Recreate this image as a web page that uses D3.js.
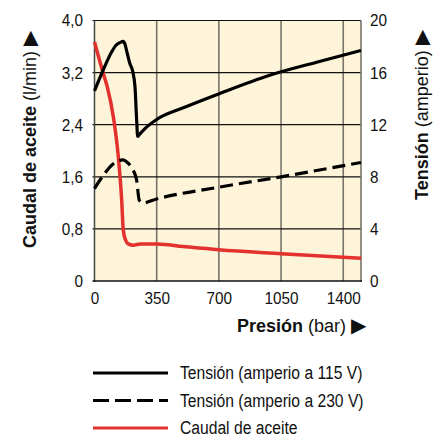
<!DOCTYPE html>
<html>
<head>
<meta charset="utf-8">
<script src="https://cdn.jsdelivr.net/npm/d3@7"></script>
<style>
  body { margin: 0; background: #fff; }
  text { font-family: "Liberation Sans", Arial, Helvetica, sans-serif; fill: #111; }
</style>
</head>
<body>
<svg width="445" height="440"></svg>
<script>
// pressure (bar) ticks and left / right axis ticks
const xTicks = [0, 350, 700, 1050, 1400];
const leftTicks = [0, 0.8, 1.6, 2.4, 3.2, 4.0];
const leftLabels = ["0", "0,8", "1,6", "2,4", "3,2", "4,0"];
const rightTicks = [0, 4, 8, 12, 16, 20];

// Tensión 115 V (amperio)
const p115 = [0, 49, 97, 121, 143, 162, 171, 184, 199, 215, 228, 237, 243, 256, 284, 350, 500, 705, 986, 1250, 1500];
const a115 = [14.6, 16.2, 17.6, 18.1, 18.3, 18.4, 18.2, 17.5, 16.7, 16.1, 14.9, 12.4, 11.1, 11.3, 11.7, 12.4, 13.3, 14.4, 15.8, 16.8, 17.7];

// Tensión 230 V (amperio)
const p230 = [0, 49, 106, 140, 162, 185, 205, 218, 237, 252, 274, 350, 700, 1050, 1500];
const a230 = [7.1, 8.1, 9.0, 9.25, 9.3, 9.1, 8.8, 8.5, 7.75, 6.2, 6.0, 6.3, 7.2, 8.0, 9.1];

// Caudal de aceite (l/min)
const pOil = [0, 49, 72, 106, 134, 153, 162, 175, 190, 218, 260, 350, 500, 700, 1050, 1500];
const qOil = [3.67, 3.19, 2.98, 2.52, 1.91, 1.24, 0.78, 0.63, 0.57, 0.55, 0.57, 0.57, 0.53, 0.48, 0.42, 0.35];

const legendNames = ["Tensión (amperio a 115 V)", "Tensión (amperio a 230 V)", "Caudal de aceite"];

const svg = d3.select("svg");
const pL = 94.5, pR = 361, pT = 20.5, pB = 281;
const squeeze = 0.9;   // the original type is a condensed grotesque

const x = d3.scaleLinear().domain([0, 1500]).range([pL, pR]);
const yL = d3.scaleLinear().domain([0, 4]).range([pB, pT]);
const yR = d3.scaleLinear().domain([0, 20]).range([pB, pT]);

const red = "#e3312d";
const dash = "13,6";

svg.append("rect")
  .attr("x", pL).attr("y", pT)
  .attr("width", pR - pL).attr("height", pB - pT)
  .attr("fill", "#fdf4da");

// vertical grid (grey)
svg.append("g").selectAll("line")
  .data(xTicks.slice(1))
  .join("line")
  .attr("x1", d => x(d)).attr("x2", d => x(d))
  .attr("y1", pT).attr("y2", pB)
  .attr("stroke", "#787468").attr("stroke-width", 1.6);

// horizontal grid (black)
svg.append("g").selectAll("line")
  .data(leftTicks.slice(1))
  .join("line")
  .attr("x1", pL - 2).attr("x2", pR)
  .attr("y1", d => yL(d)).attr("y2", d => yL(d))
  .attr("stroke", "#111").attr("stroke-width", 1.2);

// side frames
svg.append("line").attr("x1", pL).attr("x2", pL).attr("y1", pT).attr("y2", pB + 1)
  .attr("stroke", "#444").attr("stroke-width", 1.5);
svg.append("line").attr("x1", pR).attr("x2", pR).attr("y1", pT).attr("y2", pB + 1)
  .attr("stroke", "#787468").attr("stroke-width", 1.6);

// axes
const axL = svg.append("g").attr("transform", `translate(${pL},0)`)
  .call(d3.axisLeft(yL).tickValues(leftTicks).tickFormat((d, i) => leftLabels[i]).tickSize(0));
const axR = svg.append("g").attr("transform", `translate(${pR},0)`)
  .call(d3.axisRight(yR).tickValues(rightTicks).tickSize(0));
const axB = svg.append("g").attr("transform", `translate(0,${pB})`)
  .call(d3.axisBottom(x).tickValues(xTicks).tickFormat(d3.format("d")).tickSize(0).tickPadding(11));
[axL, axR, axB].forEach(g => {
  g.select(".domain").remove();
  g.selectAll("text").attr("font-size", 17).attr("fill", "#111")
    .attr("transform", `scale(${squeeze},1)`)
    .style("font-family", "'Liberation Sans', Arial, sans-serif");
});
axL.selectAll("text").attr("x", -11.5 / squeeze);
axR.selectAll("text").attr("x", 9 / squeeze);
svg.append("line").attr("x1", pL - 2).attr("x2", pR + 1).attr("y1", pB).attr("y2", pB)
  .attr("stroke", "#111").attr("stroke-width", 1.6);

// series
const plot = svg.append("g");
const lineR = d3.line().curve(d3.curveMonotoneX).x(d => x(d[0])).y(d => yR(d[1]));
const lineL = d3.line().curve(d3.curveMonotoneX).x(d => x(d[0])).y(d => yL(d[1]));

plot.append("path")
  .attr("d", lineL(d3.zip(pOil, qOil)))
  .attr("fill", "none").attr("stroke", red).attr("stroke-width", 3.5).attr("stroke-linejoin", "round");
plot.append("path")
  .attr("d", lineR(d3.zip(p230, a230)))
  .attr("fill", "none").attr("stroke", "#000").attr("stroke-width", 3.2)
  .attr("stroke-dasharray", dash);
plot.append("path")
  .attr("d", lineR(d3.zip(p115, a115)))
  .attr("fill", "none").attr("stroke", "#000").attr("stroke-width", 3.2).attr("stroke-linejoin", "round");

// axis titles
const yt = svg.append("text")
  .attr("transform", "translate(36,248) rotate(-90)")
  .attr("font-size", 18);
yt.append("tspan").attr("font-weight", "bold").text("Caudal de aceite ");
yt.append("tspan").text("(l/min)  ");
yt.append("tspan").attr("font-size", 20).text("▶");

const rt = svg.append("text")
  .attr("transform", "translate(428,200) rotate(-90)")
  .attr("font-size", 18);
rt.append("tspan").attr("font-weight", "bold").text("Tensión");
rt.append("tspan").text("  (amperio)  ");
rt.append("tspan").attr("font-size", 20).text("▶");

const xt = svg.append("text")
  .attr("x", 237).attr("y", 332)
  .attr("font-size", 18);
xt.append("tspan").attr("font-weight", "bold").text("Presión ");
xt.append("tspan").text("(bar)  ");
xt.append("tspan").attr("font-size", 20).text("▶");

// legend
const lg = svg.append("g").selectAll("g")
  .data(legendNames)
  .join("g")
  .attr("transform", (d, i) => `translate(93,${373 + i * 27.5})`);
lg.append("line")
  .attr("x1", 0).attr("x2", 75)
  .attr("stroke", (d, i) => i === 2 ? red : "#000")
  .attr("stroke-width", 3.2)
  .attr("stroke-dasharray", (d, i) => i === 1 ? "16,6" : null);
lg.append("text")
  .attr("transform", "translate(87,6) scale(0.87,1)")
  .attr("font-size", 18)
  .text(d => d);
</script>
</body>
</html>
